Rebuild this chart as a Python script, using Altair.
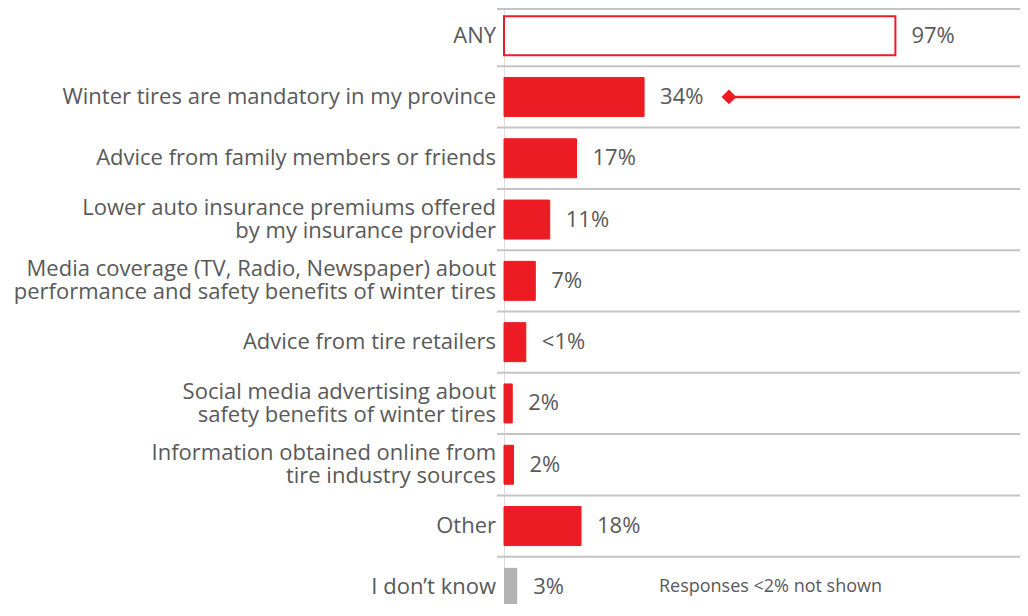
import altair as alt
import pandas as pd

# ---- data ----
categories = [
    "ANY",
    "Winter tires are mandatory in my province",
    "Advice from family members or friends",
    "Lower auto insurance premiums offered\nby my insurance provider",
    "Media coverage (TV, Radio, Newspaper) about\nperformance and safety benefits of winter tires",
    "Advice from tire retailers",
    "Social media advertising about\nsafety benefits of winter tires",
    "Information obtained online from\ntire industry sources",
    "Other",
    "I don\u2019t know",
]
bar_values = [95, 34, 17.6, 11.1, 7.6, 5.3, 2.0, 2.3, 18.7, 3.2]
pct_labels = ["97%", "34%", "17%", "11%", "7%", "<1%", "2%", "2%", "18%", "3%"]
kinds = ["outline", "red", "red", "red", "red", "red", "red", "red", "red", "grey"]

arrow_row = ["Winter tires are mandatory in my province"]
arrow_start = [54.6]

note_row = ["I don\u2019t know"]
note_text = ["Responses <2% not shown"]
note_x = [37.6]

RED = "#ed1c24"
GREY_BAR = "#b3b3b3"
TEXT = "#595959"
RULE = "#c4c4c4"
FONT = "Open Sans"
FS = 22
LH = 23

W = 516
H = 596

df = pd.DataFrame({
    "cat": categories,
    "label": categories,
    "value": bar_values,
    "pct": pct_labels,
    "kind": kinds,
    "idx": list(range(len(categories))),
    "nlines": [c.count("\n") + 1 for c in categories],
})
sep_df = df[df["idx"] > 0]
one_line = df[df["nlines"] == 1]
two_line = df[df["nlines"] == 2]
arrow_df = pd.DataFrame({"cat": arrow_row, "x": arrow_start})
note_df = pd.DataFrame({"cat": note_row, "text": note_text, "x": note_x})

yscale = alt.Scale(domain=categories, range=[-3, 610], paddingInner=0, paddingOuter=0)
xscale = alt.Scale(domain=[0, W / 4.12], nice=False, zero=True)


def Y(**kw):
    return alt.Y("cat:N", scale=yscale, sort=categories, axis=None, **kw)


base = alt.Chart(df)

seps = alt.Chart(sep_df).mark_rule(color=RULE, strokeWidth=2).encode(
    y=Y(bandPosition=0),
    x=alt.value(-7),
    x2=alt.value(W),
)
top_rule = alt.Chart(df.head(1)).mark_rule(color=RULE, strokeWidth=2).encode(
    y=alt.value(1),
    x=alt.value(-7),
    x2=alt.value(W),
)

bars = base.mark_bar(height={"band": 0.636}).encode(
    y=Y(),
    x=alt.X("value:Q", scale=xscale, axis=None),
    fill=alt.Fill("kind:N", scale=alt.Scale(domain=["outline", "red", "grey"],
                                            range=["#ffffff", RED, GREY_BAR]), legend=None),
    stroke=alt.Stroke("kind:N", scale=alt.Scale(domain=["outline", "red", "grey"],
                                                range=[RED, RED, GREY_BAR]), legend=None),
    strokeWidth=alt.StrokeWidth("kind:N", scale=alt.Scale(domain=["outline", "red", "grey"],
                                                          range=[2, 0, 0]), legend=None),
)

pcts = base.mark_text(align="left", baseline="middle", dx=16, font=FONT,
                      fontSize=FS, color=TEXT).encode(
    y=Y(),
    x=alt.X("value:Q", scale=xscale),
    text="pct:N",
)

labels_1 = alt.Chart(one_line).mark_text(align="right", baseline="middle", font=FONT,
                                         fontSize=FS, color=TEXT).encode(
    y=Y(),
    x=alt.value(-8),
    text="label:N",
)
labels_2 = alt.Chart(two_line).mark_text(align="right", baseline="middle", font=FONT,
                                         fontSize=FS, color=TEXT, lineBreak="\n",
                                         lineHeight=LH, dy=-LH / 2).encode(
    y=Y(),
    x=alt.value(-8),
    text="label:N",
)

arrow_line = alt.Chart(arrow_df).mark_rule(color=RED, strokeWidth=2.5).encode(
    y=Y(),
    x=alt.X("x:Q", scale=xscale),
    x2=alt.value(W),
)
arrow_head = alt.Chart(arrow_df).mark_point(shape="diamond", filled=True, size=220,
                                            color=RED, opacity=1).encode(
    y=Y(),
    x=alt.X("x:Q", scale=xscale),
)

note = alt.Chart(note_df).mark_text(align="left", baseline="middle", font=FONT,
                                    fontSize=18, color=TEXT).encode(
    y=Y(),
    x=alt.X("x:Q", scale=xscale),
    text="text:N",
)

chart = alt.layer(top_rule, seps, bars, pcts, labels_1, labels_2, arrow_line, arrow_head,
                  note).properties(
    width=W,
    height=H,
    autosize=alt.AutoSizeParams(type="none"),
    padding={"left": 496, "top": 0, "right": 0, "bottom": 0},
).configure_view(stroke=None).configure(background="white")

chart.save("out.html", embed_options={"renderer": "svg", "actions": False})
